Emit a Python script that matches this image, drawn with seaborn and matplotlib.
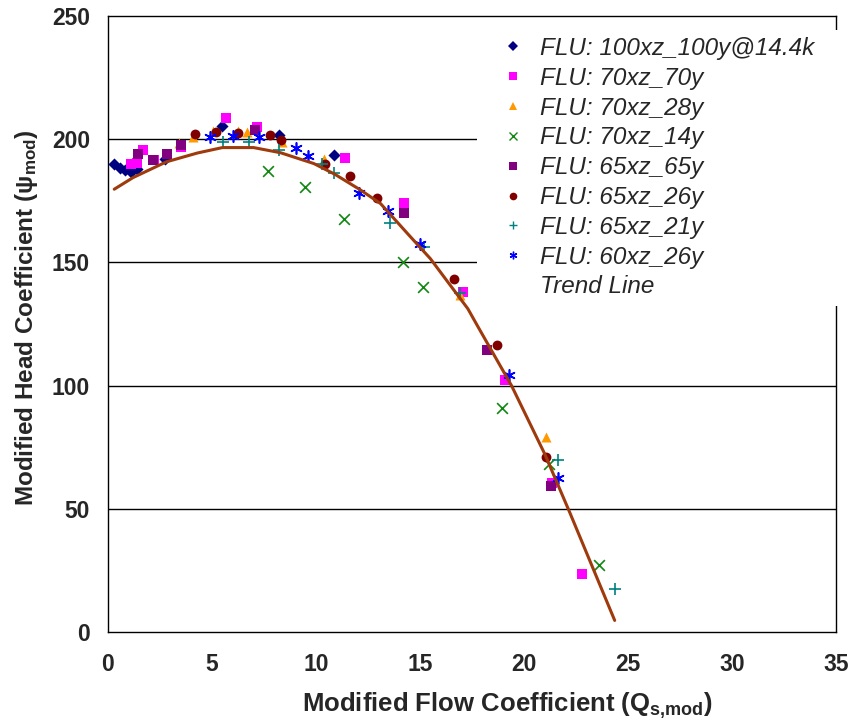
import matplotlib
matplotlib.use("Agg")
import matplotlib.pyplot as plt
from matplotlib.lines import Line2D
from matplotlib.patches import Rectangle
import seaborn as sns
import pandas as pd

# Data
flu_100_x = [0.30, 0.58, 0.82, 1.11, 1.41, 2.74, 5.47, 8.20, 10.88]
flu_100_y = [190.1, 188.5, 187.4, 186.7, 187.8, 192.1, 205.5, 201.9, 193.7]

flu_70_70_x = [1.12, 1.41, 1.70, 2.23, 3.51, 5.68, 7.15, 11.40, 14.22, 17.07, 19.11, 21.33, 22.77]
flu_70_70_y = [190.1, 190.4, 195.5, 191.7, 196.9, 208.5, 205.0, 192.4, 174.3, 137.9, 102.4, 60.3, 23.4]

flu_70_28_x = [3.42, 4.10, 5.04, 6.27, 6.68, 8.38, 10.40, 16.91, 21.07]
flu_70_28_y = [198.6, 201.0, 203.4, 203.4, 203.0, 199.0, 191.8, 136.6, 79.0]

flu_70_14_x = [7.67, 9.47, 11.37, 14.19, 15.13, 18.95, 21.20, 23.61]
flu_70_14_y = [187.0, 180.6, 167.5, 150.1, 140.0, 90.8, 68.2, 27.2]

flu_65_65_x = [1.43, 2.15, 2.85, 3.51, 7.08, 14.22, 18.23, 21.31]
flu_65_65_y = [193.9, 191.5, 193.8, 197.6, 203.7, 170.2, 114.5, 59.1]

flu_65_26_x = [4.19, 5.19, 6.23, 7.77, 8.32, 10.45, 11.65, 12.94, 16.63, 18.68, 21.04]
flu_65_26_y = [202.3, 202.8, 202.6, 201.8, 199.7, 190.0, 185.1, 176.3, 143.1, 116.3, 71.1]

flu_65_21_x = [5.52, 6.80, 8.20, 10.27, 10.85, 13.58, 15.18, 16.91, 21.63, 24.36]
flu_65_21_y = [198.9, 198.9, 195.8, 190.1, 186.2, 166.1, 156.2, 137.5, 69.8, 17.3]

flu_60_26_x = [4.90, 6.02, 7.25, 9.05, 9.63, 12.05, 13.45, 15.02, 19.27, 21.63]
flu_60_26_y = [201.0, 201.5, 201.0, 196.3, 193.2, 178.0, 171.0, 157.3, 104.1, 62.7]

trend_x = [0.3, 1.2, 2.8, 4.3, 5.5, 7.0, 8.3, 9.9, 10.9, 12.1, 13.1, 14.4, 15.5,
           17.3, 17.8, 19.4, 21.0, 22.2, 24.36]
trend_y = [179.7, 184.4, 190.8, 194.4, 196.6, 196.6, 194.5, 190.1, 185.8, 179.6,
           173.9, 161.7, 151.5, 131.2, 123.7, 100.0, 72.2, 48.5, 4.7]

series = [
    ("FLU: 100xz_100y@14.4k", flu_100_x, flu_100_y, "D", "#000080", 38),
    ("FLU: 70xz_70y", flu_70_70_x, flu_70_70_y, "s", "#FF00FF", 44),
    ("FLU: 70xz_28y", flu_70_28_x, flu_70_28_y, "^", "#FF9900", 52),
    ("FLU: 70xz_14y", flu_70_14_x, flu_70_14_y, "x", "#118811", 60),
    ("FLU: 65xz_65y", flu_65_65_x, flu_65_65_y, "s", "#800080", 44),
    ("FLU: 65xz_26y", flu_65_26_x, flu_65_26_y, "o", "#800000", 50),
    ("FLU: 65xz_21y", flu_65_21_x, flu_65_21_y, "+", "#008080", 65),
    ("FLU: 60xz_26y", flu_60_26_x, flu_60_26_y, (6, 2, 0), "#0000FF", 65),
]

sns.set_theme(style="white")
plt.rcParams["font.family"] = ["Liberation Sans", "DejaVu Sans"]
plt.rcParams["mathtext.fontset"] = "custom"
plt.rcParams["mathtext.rm"] = "Liberation Sans:bold"
plt.rcParams["mathtext.bf"] = "Liberation Sans:bold"
plt.rcParams["mathtext.it"] = "Liberation Sans:bold"

fig = plt.figure(figsize=(8.52, 7.23), dpi=100)
ax = fig.add_axes([108 / 852, 1 - 632 / 723, (836 - 108) / 852, (632 - 16) / 723])

handles = []
for name, xs, ys, mk, col, size in series:
    df = pd.DataFrame({"x": xs, "y": ys})
    lw = 1.2 if mk in ("x", "+") or isinstance(mk, tuple) else 0
    sns.scatterplot(data=df, x="x", y="y", marker=mk, color=col, s=size,
                    linewidth=lw, edgecolor=col, ax=ax, zorder=3, legend=False)
    handles.append(Line2D([], [], ls="none", marker=mk, color=col, markersize=5.5,
                          markeredgewidth=1.0 if lw else 0, label=name))

trend = pd.DataFrame({"x": trend_x, "y": trend_y})
sns.lineplot(data=trend, x="x", y="y", sort=False, estimator=None, color="#9E3A0C",
             linewidth=2.2, ax=ax, zorder=4)
handles.append(Line2D([], [], color="none", label="Trend Line"))

ax.set_xlim(0, 35)
ax.set_ylim(0, 250)
ax.set_xticks(range(0, 36, 5))
ax.set_yticks(range(0, 251, 50))
for yv in [50, 100, 150, 200]:
    ax.axhline(yv, color="black", linewidth=1.0, zorder=1)

for sp in ax.spines.values():
    sp.set_color("black")
    sp.set_linewidth(1.0)
    sp.set_visible(True)

ax.tick_params(axis="both", direction="out", length=5, width=1, color="black",
               labelsize=16.5)
ax.tick_params(axis="x", pad=10)
ax.tick_params(axis="y", pad=8)
for lbl in ax.get_xticklabels() + ax.get_yticklabels():
    lbl.set_fontweight("bold")

ax.set_xlabel(r"Modified Flow Coefficient (Q$_{\mathbf{s{,}mod}}$)", fontsize=18.5,
              fontweight="bold")
ax.set_ylabel(r"Modified Head Coefficient (ψ$_{\mathbf{mod}}$)", fontsize=17.5,
              fontweight="bold")
ax.xaxis.set_label_coords(0.548, -0.095)
ax.yaxis.set_label_coords(-0.094, 0.51)

# white block behind the legend, as in the original
fig.patches.append(Rectangle((477 / 852, 1 - 306 / 723), (842 - 477) / 852, (306 - 30) / 723,
                             transform=fig.transFigure, facecolor="white",
                             edgecolor="none", zorder=2))

leg = fig.legend(handles=handles, loc="upper left",
                 bbox_to_anchor=(506 / 852, 1 - 37 / 723),
                 frameon=False, prop={"style": "italic", "size": 17.5},
                 handlelength=0.6, handletextpad=0.8, labelspacing=0.28,
                 borderpad=0, borderaxespad=0)
leg.set_zorder(3)

plt.savefig("out.png", dpi=100)
